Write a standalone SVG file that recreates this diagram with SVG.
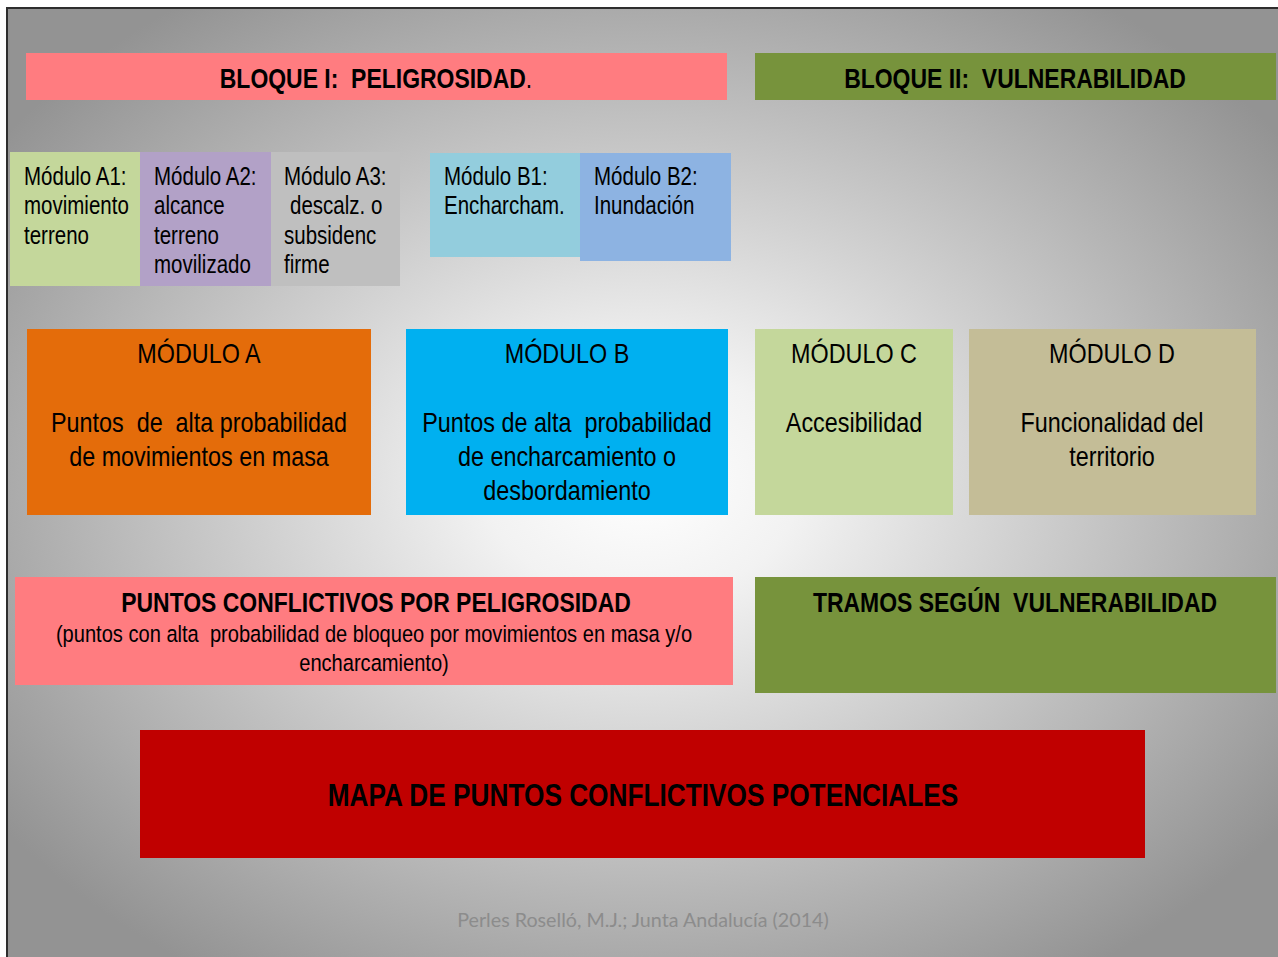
<svg xmlns="http://www.w3.org/2000/svg" width="1278" height="957" viewBox="0 0 1278 957">
<defs>
<radialGradient id="bg" cx="0.5" cy="0.5" r="0.62">
<stop offset="0" stop-color="#ffffff"/>
<stop offset="0.2" stop-color="#f2f2f2"/>
<stop offset="1" stop-color="#939393"/>
</radialGradient>
<style>
text{font-family:"Liberation Sans",Arial,sans-serif;fill:#000}
.b{font-weight:bold;font-size:28px}
.m{font-size:25px}
.t{font-size:28.5px}
.c{text-anchor:middle}
.s{font-size:24.5px}
.f{font-family:Lato,"Open Sans",sans-serif;font-size:19.7px;fill:#8c8c8c}
</style>
</defs>
<rect x="0" y="0" width="1278" height="957" fill="#ffffff"/>
<rect x="6" y="7" width="1272" height="950" fill="url(#bg)"/>
<path d="M7,957 V8 H1278" fill="none" stroke="#2e2e2e" stroke-width="2"/>

<g id="bloque1"><rect x="26" y="53" width="701" height="47" fill="#ff7c80"/><g transform="translate(376,0) scale(0.82,1)"><text class="b c" x="0" y="88" xml:space="preserve">BLOQUE I:  PELIGROSIDAD<tspan font-weight="normal">.</tspan></text></g></g>
<g id="bloque2"><rect x="755" y="53" width="521" height="47" fill="#77933c"/><g transform="translate(1015,0) scale(0.82,1)"><text class="b c" x="0" y="88" xml:space="preserve">BLOQUE II:  VULNERABILIDAD</text></g></g>

<g id="modA1"><rect x="10" y="152" width="130" height="134" fill="#c4d79b"/><g transform="translate(24,0) scale(0.82,1)"><text class="m" x="0" y="185">Módulo A1:<tspan x="0" y="214">movimiento</tspan><tspan x="0" y="244">terreno</tspan></text></g></g>
<g id="modA2"><rect x="140" y="152" width="131" height="134" fill="#b2a1c7"/><g transform="translate(154,0) scale(0.82,1)"><text class="m" x="0" y="185">Módulo A2:<tspan x="0" y="214">alcance</tspan><tspan x="0" y="244">terreno</tspan><tspan x="0" y="273">movilizado</tspan></text></g></g>
<g id="modA3"><rect x="271" y="152" width="129" height="134" fill="#bfbfbf"/><g transform="translate(284,0) scale(0.82,1)"><text class="m" x="0" y="185">Módulo A3:<tspan x="7.3" y="214">descalz. o</tspan><tspan x="0" y="244">subsidenc</tspan><tspan x="0" y="273">firme</tspan></text></g></g>
<g id="modB1"><rect x="430" y="153" width="150" height="104" fill="#93cddd"/><g transform="translate(444,0) scale(0.82,1)"><text class="m" x="0" y="185">Módulo B1:<tspan x="0" y="214">Encharcham.</tspan></text></g></g>
<g id="modB2"><rect x="580" y="153" width="151" height="108" fill="#8db3e2"/><g transform="translate(594,0) scale(0.82,1)"><text class="m" x="0" y="185">Módulo B2:<tspan x="0" y="214">Inundación</tspan></text></g></g>

<g id="moduloA"><rect x="27" y="329" width="344" height="186" fill="#e46c0a"/><g transform="translate(199,0) scale(0.82,1)"><text class="t c" x="0" y="363">MÓDULO A</text><text class="t c" x="0" y="432" xml:space="preserve">Puntos  de  alta probabilidad</text><text class="t c" x="0" y="466">de movimientos en masa</text></g></g>
<g id="moduloB"><rect x="406" y="329" width="322" height="186" fill="#00b0f0"/><g transform="translate(567,0) scale(0.82,1)"><text class="t c" x="0" y="363">MÓDULO B</text><text class="t c" x="0" y="432" xml:space="preserve">Puntos de alta  probabilidad</text><text class="t c" x="0" y="466">de encharcamiento o</text><text class="t c" x="0" y="500">desbordamiento</text></g></g>
<g id="moduloC"><rect x="755" y="329" width="198" height="186" fill="#c4d79b"/><g transform="translate(854,0) scale(0.82,1)"><text class="t c" x="0" y="363">MÓDULO C</text><text class="t c" x="0" y="432">Accesibilidad</text></g></g>
<g id="moduloD"><rect x="969" y="329" width="287" height="186" fill="#c4bd97"/><g transform="translate(1112,0) scale(0.82,1)"><text class="t c" x="0" y="363">MÓDULO D</text><text class="t c" x="0" y="432">Funcionalidad del</text><text class="t c" x="0" y="466">territorio</text></g></g>

<g id="puntos"><rect x="15" y="577" width="718" height="108" fill="#ff7c80"/><g transform="translate(376,0) scale(0.82,1)"><text class="b c" x="0" y="612">PUNTOS CONFLICTIVOS POR PELIGROSIDAD</text></g><g transform="translate(374,0) scale(0.82,1)"><text class="s c" x="0" y="642" xml:space="preserve">(puntos con alta  probabilidad de bloqueo por movimientos en masa y/o</text><text class="s c" x="0" y="671">encharcamiento)</text></g></g>
<g id="tramos"><rect x="755" y="577" width="521" height="116" fill="#77933c"/><g transform="translate(1015,0) scale(0.82,1)"><text class="b c" x="0" y="612" xml:space="preserve">TRAMOS SEGÚN  VULNERABILIDAD</text></g></g>

<g id="mapa"><rect x="140" y="730" width="1005" height="128" fill="#c00000"/><g transform="translate(643,0) scale(0.82,1)"><text class="c" x="0" y="806" font-weight="bold" font-size="32">MAPA DE PUNTOS CONFLICTIVOS POTENCIALES</text></g></g>

<g id="connectors"></g>
<text class="f c" x="643" y="927">Perles Roselló, M.J.; Junta Andalucía (2014)</text>
</svg>
